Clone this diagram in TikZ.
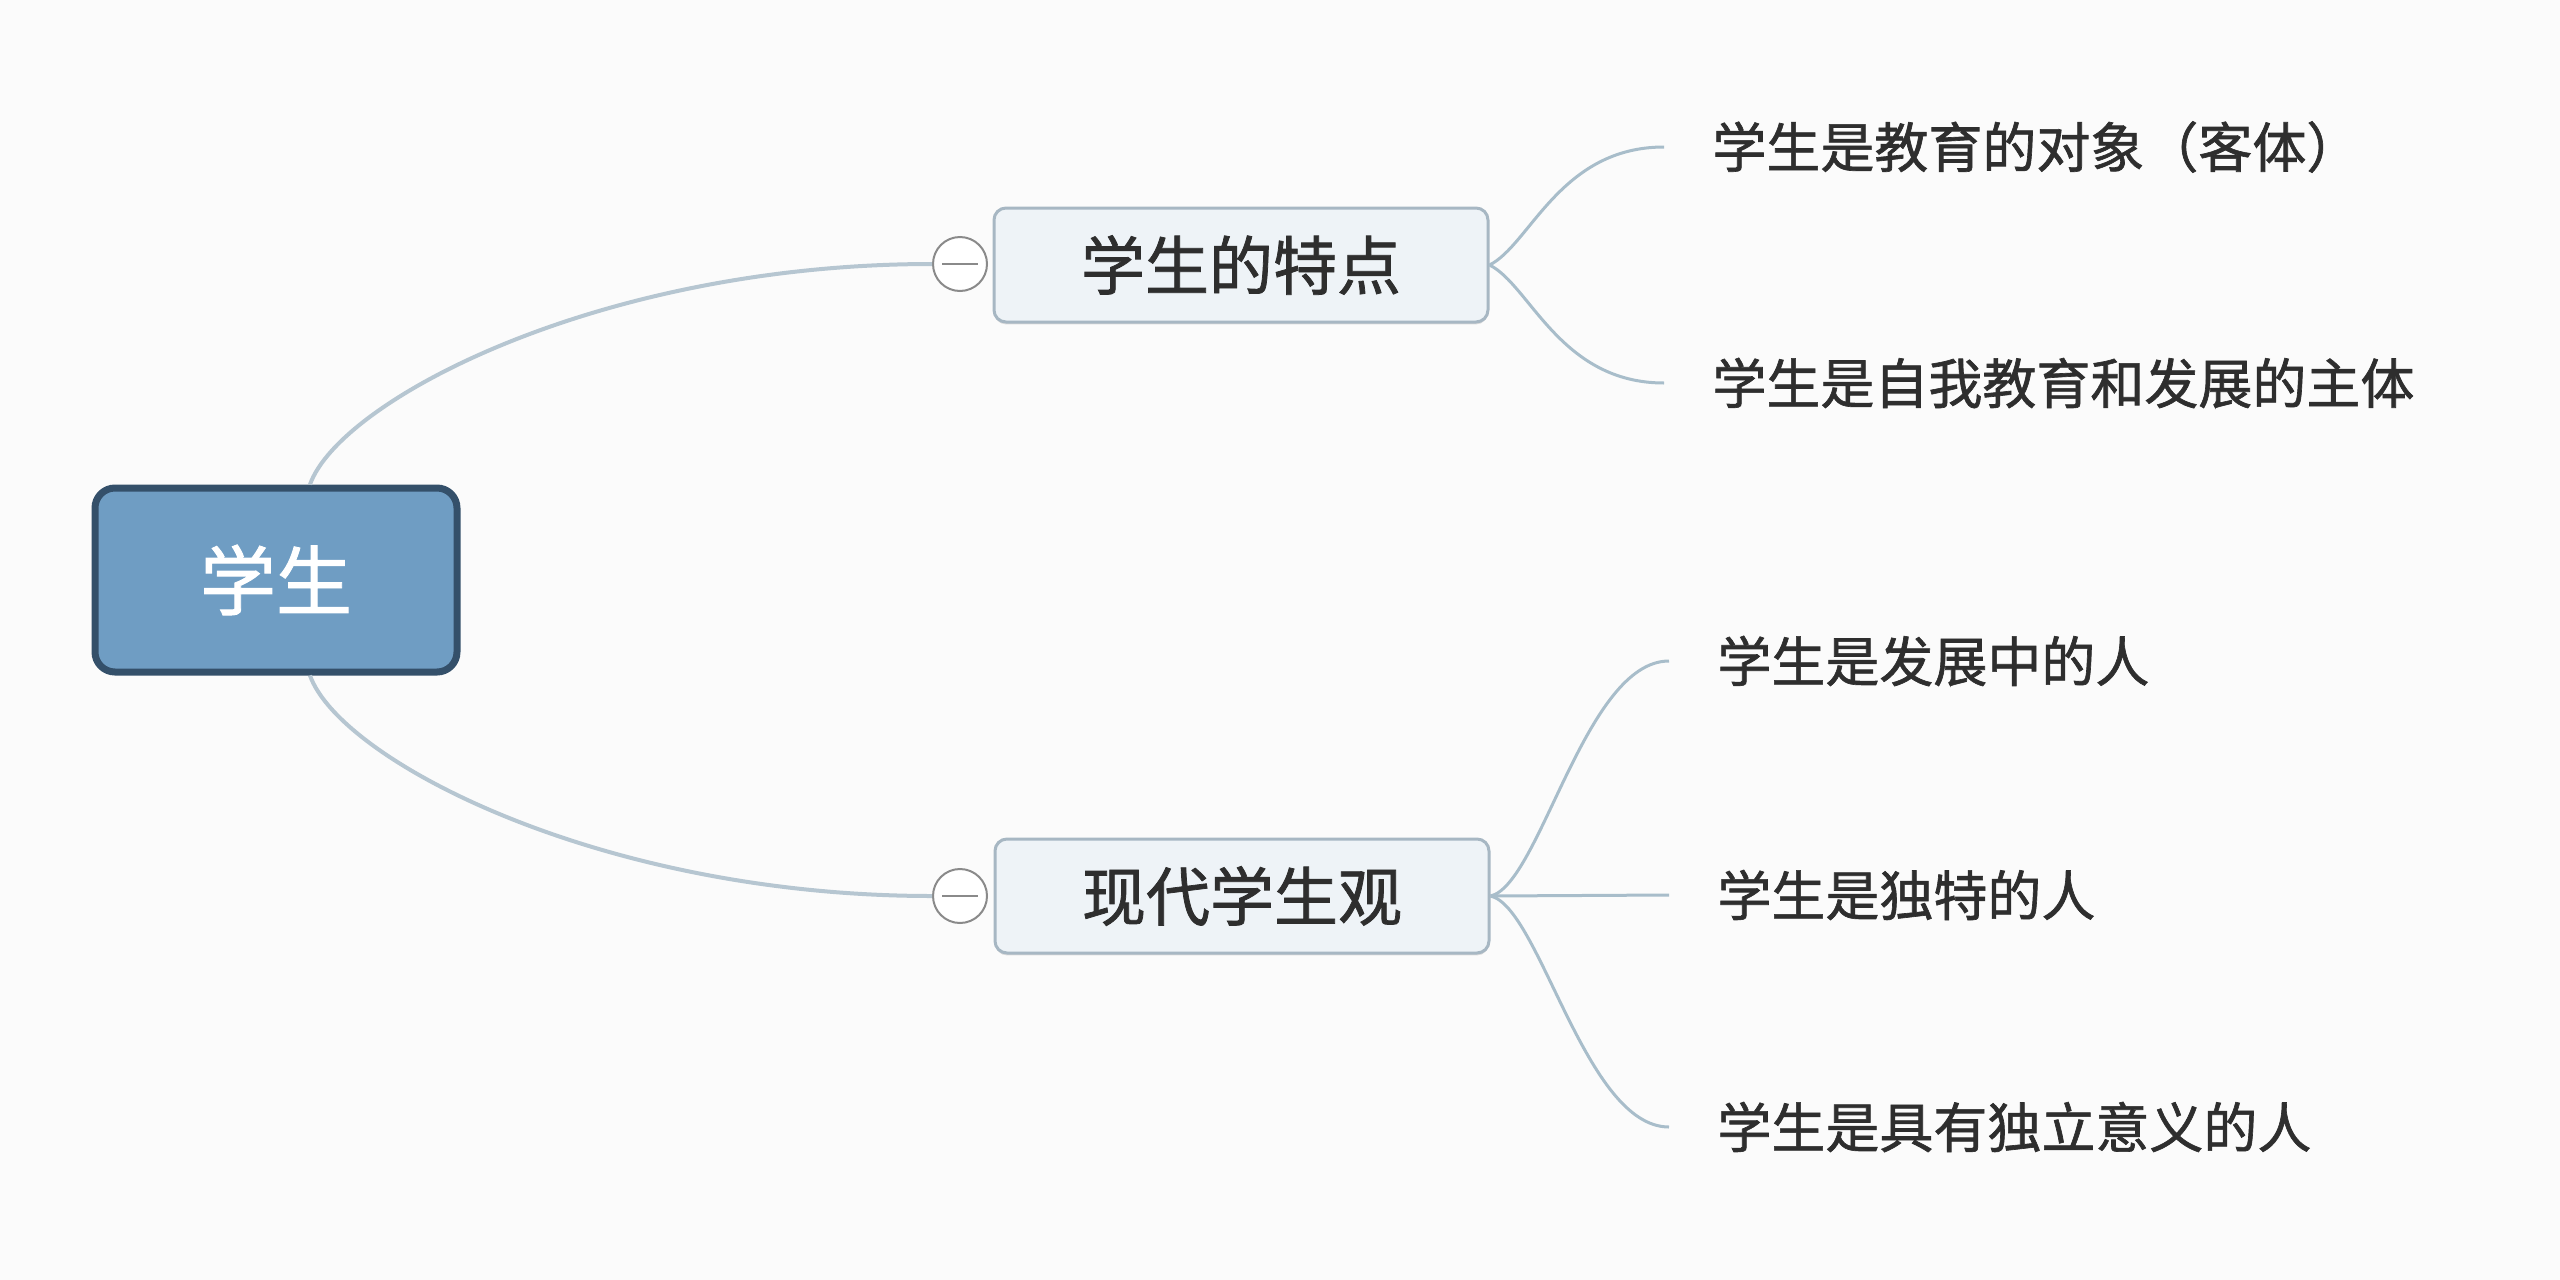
\documentclass[tikz,border=0pt]{standalone}
\usepackage{fontspec}
\setmainfont{Noto Sans CJK SC}[FakeBold=1.2]
\usetikzlibrary{shadows}
\definecolor{bgcol}{HTML}{FBFBFB}
\definecolor{rootfill}{HTML}{6F9DC3}
\definecolor{rootborder}{HTML}{34506A}
\definecolor{topicfill}{HTML}{EEF3F7}
\definecolor{topicborder}{HTML}{A7B7C3}
\definecolor{foldgray}{HTML}{8A8A8A}
\definecolor{textdark}{HTML}{2E2E2E}
\definecolor{linecol}{HTML}{B6C6D1}
\definecolor{twigcol}{HTML}{A8BDCA}
\begin{document}
\begin{tikzpicture}[x=0.5pt,y=-0.5pt,
  rootbox/.style={draw=rootborder, line width=3.5pt, fill=rootfill, rounded corners=10pt,
    minimum width=181pt, minimum height=92pt, inner sep=0pt, text=white,
    font=\fontsize{38pt}{44pt}\selectfont},
  topicbox/.style={draw=topicborder, line width=1.5pt, fill=topicfill, rounded corners=6pt,
    minimum width=247pt, minimum height=57pt, inner sep=0pt, text=textdark,
    font=\fontsize{32pt}{38pt}\selectfont,
    drop shadow={shadow xshift=0pt, shadow yshift=-1.2pt, fill=black, opacity=0.12}},
  foldmark/.style={circle, draw=foldgray, line width=1pt, fill=white, minimum size=27pt, inner sep=0pt},
  leaf/.style={anchor=west, inner xsep=24pt, inner ysep=0pt, text=textdark,
    font=\fontsize{27pt}{32pt}\selectfont},
  trunk/.style={draw=linecol, line width=2pt},
  twig/.style={draw=twigcol, line width=1.5pt}]
\fill[bgcol] (0,0) rectangle (2560,1280);
\useasboundingbox (0,0) rectangle (2560,1280);

% nodes
\node[rootbox] (root) at (276,580) {学生};
\node[topicbox] (t1) at (1241,265) {学生的特点};
\node[topicbox] (t2) at (1242,896) {现代学生观};
\node[foldmark] (c1) at (960,264) {};
\node[foldmark] (c2) at (960,896) {};
\draw[foldgray, line width=1pt] ([xshift=-9pt]c1.center) -- ([xshift=9pt]c1.center);
\draw[foldgray, line width=1pt] ([xshift=-9pt]c2.center) -- ([xshift=9pt]c2.center);

\node[leaf] (l1) at (1664,147) {学生是教育的对象（客体）};
\node[leaf] (l2) at (1664,383) {学生是自我教育和发展的主体};
\node[leaf] (l3) at (1669,661) {学生是发展中的人};
\node[leaf] (l4) at (1669,895) {学生是独特的人};
\node[leaf] (l5) at (1669,1127) {学生是具有独立意义的人};

% trunk connectors
\draw[trunk] ([xshift=17pt]root.north) .. controls (340,400) and (600,264) .. (c1.west);
\draw[trunk] ([xshift=17pt]root.south) .. controls (340,760) and (600,896) .. (c2.west);

% twigs
\draw[twig] (t1.east) .. controls (1530,245) and (1560,147) .. (l1.west);
\draw[twig] (t1.east) .. controls (1530,285) and (1560,383) .. (l2.west);
\draw[twig] (t2.east) .. controls (1540,885) and (1585,661) .. (l3.west);
\draw[twig] (t2.east) -- (l4.west);
\draw[twig] (t2.east) .. controls (1540,907) and (1585,1127) .. (l5.west);
\end{tikzpicture}
\end{document}
